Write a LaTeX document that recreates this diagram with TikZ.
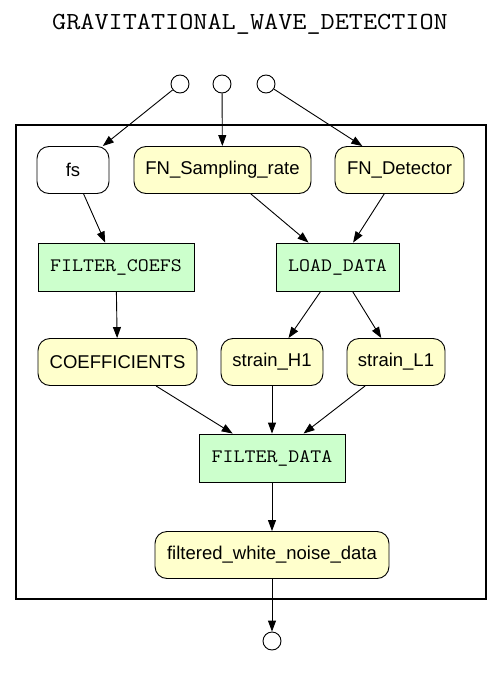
\documentclass[tikz,border=0pt]{standalone}
\usepackage{fontspec}
\setmainfont{Liberation Sans}
\setmonofont[FakeStretch=1.12]{Latin Modern Mono}
\usetikzlibrary{arrows.meta}
\definecolor{datafill}{HTML}{FFFFCC}
\definecolor{stepfill}{HTML}{CCFFCC}
\begin{document}
\begin{tikzpicture}[x=1pt,y=-1pt,
  every node/.style={line width=0.9pt},
  dataitem/.style={draw=black, fill=datafill, rounded corners=12pt, minimum height=47pt,
    inner sep=0pt, font=\fontsize{18.5}{21}\selectfont},
  paramitem/.style={dataitem, fill=white},
  stepbox/.style={draw=black, fill=stepfill, minimum height=48pt, inner sep=0pt,
    font=\ttfamily\fontsize{19}{21}\selectfont},
  port/.style={draw=black, fill=white, circle, minimum size=18pt, inner sep=0pt},
  flow/.style={draw=black, line width=0.9pt, -{Triangle[length=11pt,width=8pt]}}
]
\useasboundingbox (0,0) rectangle (501,688);

% title
\node[font=\ttfamily\fontsize{24.5}{26}\selectfont] (title) at (250,24) {GRAVITATIONAL\_WAVE\_DETECTION};

% workflow frame
\draw[line width=2pt] (16,125) rectangle (486,599);

% inputs and output ports
\node[port] (in1) at (180,84) {};
\node[port] (in2) at (222,84) {};
\node[port] (in3) at (266,84) {};
\node[port] (out) at (272,641) {};

% data and parameters
\node[paramitem, minimum width=72pt] (fs) at (73,170) {fs};
\node[dataitem, minimum width=177pt] (fnrate) at (222.5,170) {FN\_Sampling\_rate};
\node[dataitem, minimum width=129pt] (fndet) at (399.5,170) {FN\_Detector};
\node[dataitem, minimum width=159pt] (coef) at (117.5,362) {COEFFICIENTS};
\node[dataitem, minimum width=102pt] (sh1) at (272,362) {strain\_H1};
\node[dataitem, minimum width=98pt] (sl1) at (396,362) {strain\_L1};
\node[dataitem, minimum width=234pt] (fwnd) at (272,555) {filtered\_white\_noise\_data};

% processing steps
\node[stepbox, minimum width=156pt] (fcoefs) at (116,267) {FILTER\_COEFS};
\node[stepbox, minimum width=123pt] (load) at (337.5,267) {LOAD\_DATA};
\node[stepbox, minimum width=146pt] (fdata) at (272,458) {FILTER\_DATA};

% connectors
\draw[flow] (in1) -- (fs);
\draw[flow] (in2) -- (fnrate);
\draw[flow] (in3) -- (fndet);
\draw[flow] (fs) -- (fcoefs);
\draw[flow] (fnrate) -- (load);
\draw[flow] (fndet) -- (load);
\draw[flow] (fcoefs) -- (coef);
\draw[flow] (load) -- (sh1);
\draw[flow] (load) -- (sl1);
\draw[flow] (coef) -- (fdata);
\draw[flow] (sh1) -- (fdata);
\draw[flow] (sl1) -- (fdata);
\draw[flow] (fdata) -- (fwnd);
\draw[flow] (fwnd) -- (out);
\end{tikzpicture}
\end{document}
